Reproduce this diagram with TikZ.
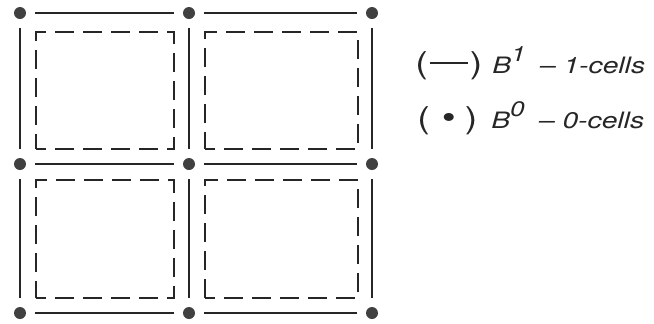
\documentclass[tikz,border=0pt]{standalone}
\usepackage{fontspec}
\newfontfamily\legendfont[FakeStretch=1.25]{TeX Gyre Heros}
\newcommand{\raisedsup}[1]{\raisebox{6pt}{\fontsize{10.5}{12}\selectfont #1}}
\newcommand{\bigparen}[1]{{\upshape\fontsize{15}{17}\selectfont #1}}
\begin{document}
\begin{tikzpicture}[x=0.5pt, y=-0.5pt,
  vertex/.style={circle, fill=black!75, inner sep=0pt, minimum size=6pt},
  edge/.style={draw=black!85, line width=1.3pt, shorten >=4.5pt, shorten <=4.5pt},
  face/.style={draw=black!85, dash pattern=on 9.5pt off 4.5pt, dash phase=4.5pt, line width=1.1pt, inner sep=0pt},
  legend/.style={anchor=base west, inner sep=0pt, font=\legendfont\itshape\fontsize{11.3}{13}\selectfont, text=black!85}]
\useasboundingbox (0,0) rectangle (654,323);
% 0-cells
\foreach \x/\c in {20/a,189/b,372/c}
  \foreach \y/\r in {13/1,164/2,313/3}
    \node[vertex] (\c\r) at (\x,\y) {};
% 1-cells
\foreach \p/\q in {a1/b1,b1/c1,a2/b2,b2/c2,a3/b3,b3/c3,a1/a2,a2/a3,b1/b2,b2/b3,c1/c2,c2/c3}
  \draw[edge] (\p) -- (\q);
% dashed squares
\node[face, minimum width=69pt, minimum height=58.5pt] (f11) at (105,90.5) {};
\node[face, minimum width=76.5pt, minimum height=58.5pt] (f21) at (281.5,90.5) {};
\node[face, minimum width=69pt, minimum height=59pt] (f12) at (105,239) {};
\node[face, minimum width=76.5pt, minimum height=59pt] (f22) at (281.5,239) {};
% legend
\node[legend] (l1) at (415,73) {\bigparen{(}\hspace{1pt}\rule[4.3pt]{19pt}{1.1pt}\hspace{1pt}\bigparen{)}\hspace{5pt}B\raisedsup{1}\hspace{7pt}\textendash\hspace{4pt}1-cells};
\node[legend] (l2) at (417,128) {\bigparen{(}\hspace{6pt}{\upshape\fontsize{16}{16}\selectfont\textbullet}\hspace{4.5pt}\bigparen{)}\hspace{7pt}B\raisedsup{0}\hspace{7pt}\textendash\hspace{4pt}0-cells};
\end{tikzpicture}
\end{document}
